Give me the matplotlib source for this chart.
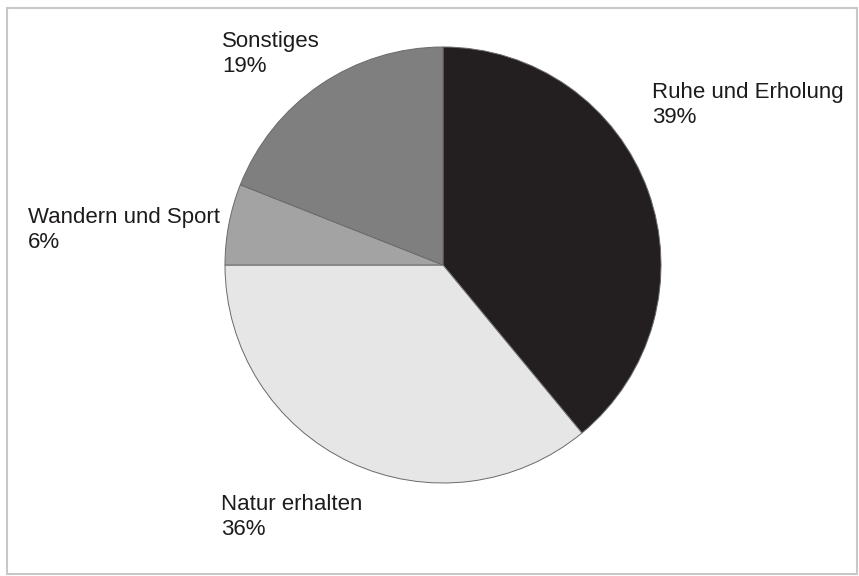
import matplotlib
matplotlib.use('Agg')
import matplotlib.pyplot as plt
from matplotlib.patches import Rectangle

# ------------------------- Data -------------------------
categories = ['Ruhe und Erholung', 'Natur erhalten', 'Wandern und Sport', 'Sonstiges']
shares = [39, 36, 6, 19]
colors = ['#231f20', '#e6e6e6', '#a3a3a3', '#7f7f7f']

# label anchors in pixels (left, top) of a 859x576 canvas
label_pos = [(652, 82), (221, 494), (28, 207), (222, 31)]

W, H = 859, 576
fig = plt.figure(figsize=(W / 100, H / 100), dpi=100)
plt.rcParams['font.family'] = ['Liberation Sans', 'DejaVu Sans']

# frame around the chart
fig.patches.append(Rectangle((7 / W, 2 / H), 850 / W, 566 / H, transform=fig.transFigure,
                             fill=False, edgecolor='#c8c8c8', linewidth=1.5))

cx, cy, r = 443, 265, 218
ax = fig.add_axes([(cx - r) / W, (H - cy - r) / H, 2 * r / W, 2 * r / H])
ax.pie(shares, colors=colors, startangle=90, counterclock=False,
       wedgeprops=dict(edgecolor='#6a6a6a', linewidth=0.7))
ax.set_xlim(-1.0, 1.0)
ax.set_ylim(-1.0, 1.0)
ax.set_aspect('equal')
ax.axis('off')

for name, val, (px, py) in zip(categories, shares, label_pos):
    fig.text(px / W, 1 - py / H, f'{name}\n{val}%', ha='left', va='top',
             fontsize=16, color='#1e1b1c', linespacing=1.25)

fig.savefig('out.png', dpi=100)
